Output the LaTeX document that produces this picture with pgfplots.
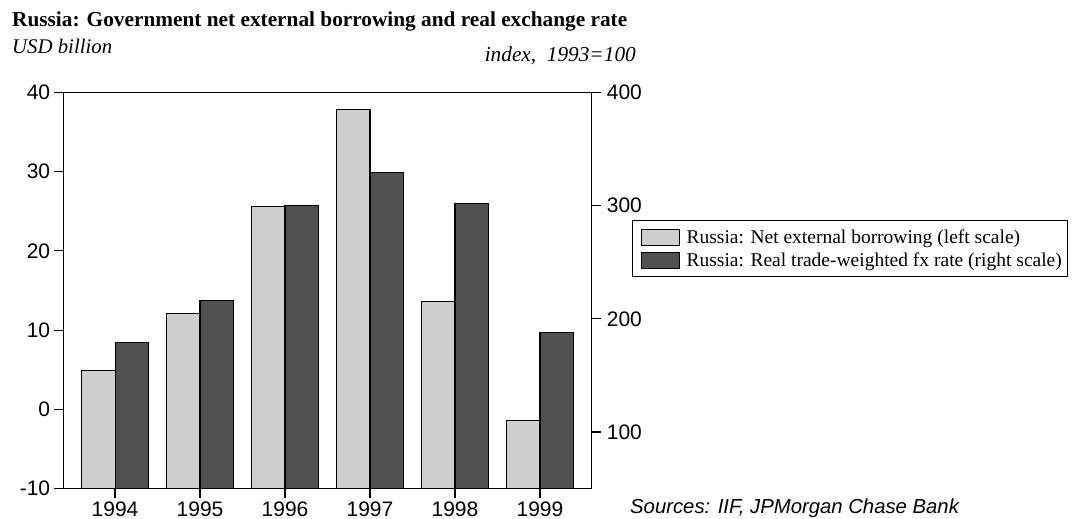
\documentclass[border=0pt]{standalone}
\usepackage{fontspec}
\setmainfont{Liberation Serif}
\setsansfont{Liberation Sans}
\usepackage{pgfplots}
\pgfplotsset{compat=1.18}
\usepackage{pgfplotstable}

\definecolor{lightbar}{HTML}{CECECE}
\definecolor{darkbar}{HTML}{505050}

% net external borrowing, USD bn (left scale)
\pgfplotstableread{
year borrow
1994 4.9
1995 12.1
1996 25.6
1997 37.8
1998 13.6
1999 -1.4
}\borrowing

% real trade-weighted fx rate, 1993=100 (right scale)
\pgfplotstableread{
year fx
1994 179
1995 216
1996 300
1997 329
1998 302
1999 188
}\fxrate

\pgfplotsset{
  twinaxis/.style={
    scale only axis, width=528.4bp, height=396.4bp,
    at={(63.3bp,-488.7bp)}, anchor=south west,
    xmin=1993.391, xmax=1999.609,
    ybar, bar width=0.392,
    tick align=outside, major tick length=9bp,
    axis line style={line width=1.2bp},
    every tick/.style={black, line width=1.2bp},
    tick label style={font=\sffamily\fontsize{21bp}{24bp}\selectfont, inner sep=0pt},
    legend image code/.code={\path (0bp,0bp);
      \draw[##1, draw=black, line width=1.1bp] (4bp,-8bp) rectangle (42bp,8bp);},
  },
}

\begin{document}
\begin{tikzpicture}
\useasboundingbox (0,0) rectangle (1073bp,-519bp);

\begin{axis}[twinaxis,
    ymin=0, ymax=50,
    tick pos=left,
    xtick={1994,1995,1996,1997,1998,1999},
    xticklabels={1994,1995,1996,1997,1998,1999},
    ytick={0,10,20,30,40,50},
    yticklabels={-10,0,10,20,30,40},
    xticklabel style={anchor=north, yshift=-4bp},
    yticklabel style={anchor=east, xshift=-4bp},
  ]
  % bars rise from the bottom of the frame (-10)
  \addplot[fill=lightbar, draw=black, line width=1.1bp, bar shift=-0.196]
    table[x=year, y expr=\thisrow{borrow}+10] {\borrowing};
\end{axis}

\begin{axis}[twinaxis,
    ymin=0, ymax=350,
    axis x line=none,
    ytick pos=right,
    ytick={50,150,250,350},
    yticklabels={100,200,300,400},
    yticklabel style={anchor=west, xshift=6bp},
    legend style={at={(1.0762,0.678)}, anchor=north west,
      draw=black, line width=1.1bp,
      font=\fontsize{19.5bp}{24bp}\selectfont,
      inner xsep=4bp, inner ysep=7bp, row sep=4bp,
      /tikz/every odd column/.append style={column sep=5bp},
      legend cell align=left},
  ]
  \addlegendimage{fill=lightbar}
  \addlegendentry{Russia: Net external borrowing (left scale)}
  % bars rise from the bottom of the frame (50)
  \addplot[fill=darkbar, draw=black, line width=1.1bp, bar shift=0.196]
    table[x=year, y expr=\thisrow{fx}-50] {\fxrate};
  \addlegendentry{Russia: Real trade-weighted fx rate (right scale)}
\end{axis}

\node[anchor=base west, inner sep=0pt, font=\bfseries\fontsize{21.3bp}{24bp}\selectfont]
  at (12bp,-26.5bp) {Russia: Government net external borrowing and real exchange rate};
\node[anchor=base west, inner sep=0pt, font=\itshape\fontsize{20.8bp}{24bp}\selectfont]
  at (12bp,-53.5bp) {USD billion};
\node[anchor=base east, inner sep=0pt, font=\itshape\fontsize{21.3bp}{24bp}\selectfont]
  at (636bp,-61bp) {index,\ \ 1993=100};
\node[anchor=base west, inner sep=0pt, font=\sffamily\itshape\fontsize{20.3bp}{24bp}\selectfont]
  at (630bp,-513bp) {Sources: IIF, JPMorgan Chase Bank};
\end{tikzpicture}
\end{document}
